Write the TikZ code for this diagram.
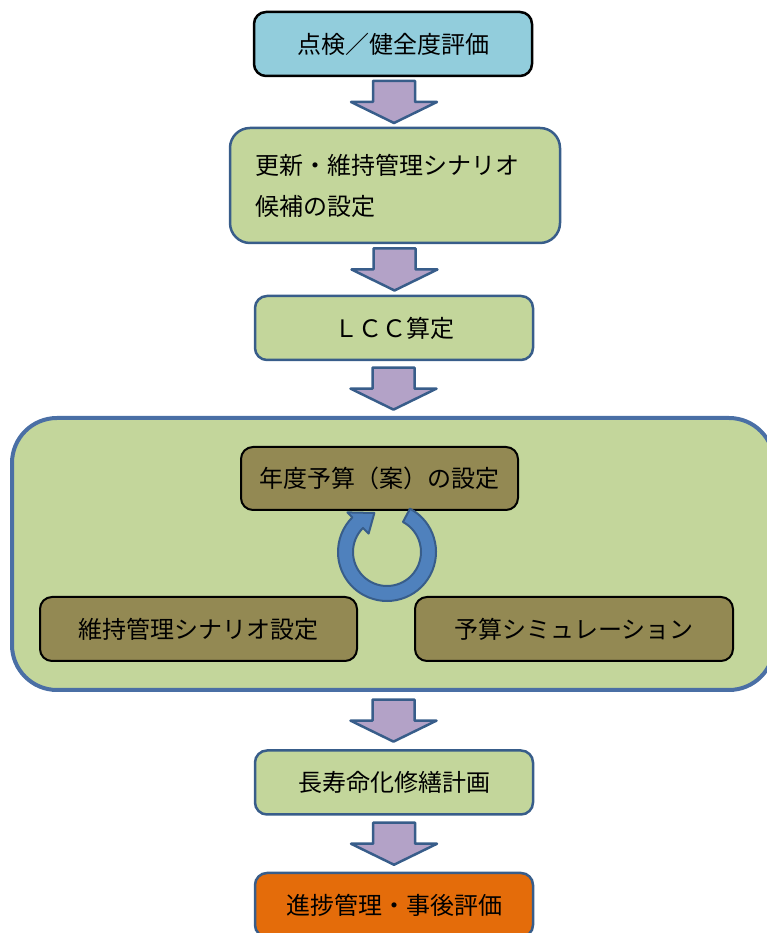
\documentclass[tikz,border=0pt]{standalone}
\usepackage{fontspec}
\setmainfont{Noto Sans CJK JP}
\usetikzlibrary{calc}
\definecolor{chkBlue}{HTML}{92CDDC}
\definecolor{stepGreen}{HTML}{C3D69B}
\definecolor{progOrange}{HTML}{E46C0A}
\definecolor{innerOlive}{HTML}{938953}
\definecolor{lineBlue}{HTML}{385D8A}
\definecolor{frameBlue}{HTML}{4A6FA5}
\definecolor{arrowPurple}{HTML}{B3A2C7}
\definecolor{ringBlue}{HTML}{4F81BD}

\begin{document}
\begin{tikzpicture}
[x=1pt,y=1pt,
  stepDecorate/.style={shape=rectangle,rounded corners=12pt,line width=2.5pt,
    minimum width=278pt,minimum height=64pt,inner sep=0pt,
    font=\fontsize{24}{28}\selectfont},
  innerDecorate/.style={stepDecorate,fill=innerOlive,draw=black,line width=2pt,
    minimum height=64pt},
  frameDecorate/.style={shape=rectangle,rounded corners=45pt,line width=4pt,
    draw=frameBlue,fill=stepGreen,minimum width=762pt,minimum height=272pt},
  arrowDecorate/.style={line width=2.5pt,draw=lineBlue,fill=arrowPurple,line join=round},
  ringDecorate/.style={line width=2pt,draw=lineBlue,fill=ringBlue,line join=round}]
\clip (0,0) rectangle (767,933);
%% outer frame
\node (sim) at (393,379) [frameDecorate] {};
%% main column
\foreach \nodename/\x/\y/\fillc/\linec/\label in {chk/393/889/chkBlue/black/点検／健全度評価,
    lcc/394/605/stepGreen/lineBlue/ＬＣＣ算定,
    plan/394/150.5/stepGreen/lineBlue/長寿命化修繕計画,
    prog/394/28/progOrange/lineBlue/進捗管理・事後評価} {
  \node (\nodename) at (\x,\y) [stepDecorate,fill=\fillc,draw=\linec] {\label};
}
\node (scen) at (395,747.5) [stepDecorate,rounded corners=20pt,minimum width=330pt,
  minimum height=115pt,text width=280pt,align=left,fill=stepGreen,draw=lineBlue,
  font=\fontsize{24}{41}\selectfont] {更新・維持管理シナリオ\\候補の設定};
%% inside the frame
\node (budget) at (379.5,454.5) [innerDecorate,minimum width=277pt,minimum height=63pt] {年度予算（案）の設定};
\node (scset) at (198.5,304) [innerDecorate,minimum width=317pt] {維持管理シナリオ設定};
\node (bsim) at (574,304) [innerDecorate,minimum width=318pt] {予算シミュレーション};
%% cycle arrow
\coordinate (c) at (387,381);
\draw[ringDecorate] ($(c)+(62:49)$) arc[start angle=62,end angle=-225,radius=49]
  -- ($(c)+(135:56)$) -- ($(c)+(108:41)$) -- ($(c)+(135:26)$) -- ($(c)+(135:34)$)
  arc[start angle=135,end angle=422,radius=34] -- cycle;
%% block arrows
\foreach \startnode/\endnode in {chk/scen, scen/lcc, lcc/sim, sim/plan, plan/prog} {
  \coordinate (m) at ($(\startnode.south)!0.5!(\endnode.north)$);
  \draw[arrowDecorate] ($(m)+(-21,21)$) -- ($(m)+(21,21)$) -- ($(m)+(21,0)$)
    -- ($(m)+(43,0)$) -- ($(m)+(0,-21)$) -- ($(m)+(-43,0)$) -- ($(m)+(-21,0)$) -- cycle;
}
\end{tikzpicture}
\end{document}
